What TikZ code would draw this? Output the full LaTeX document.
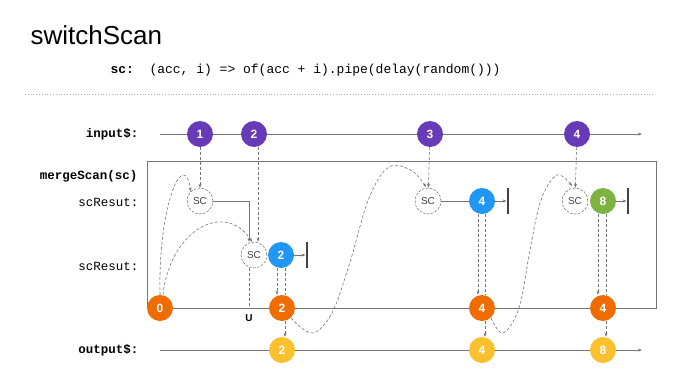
\documentclass[tikz,border=0pt]{standalone}
\usepackage{fontspec}
\setmainfont{Liberation Sans}
\setsansfont{Liberation Sans}
\setmonofont{Liberation Mono}
\usetikzlibrary{arrows.meta, positioning, calc}
\definecolor{inpurple}{HTML}{673AB7}
\definecolor{accorange}{HTML}{EF6C00}
\definecolor{scblue}{HTML}{2196F3}
\definecolor{scgreen}{HTML}{7CB342}
\definecolor{outyellow}{HTML}{FBC02D}
\definecolor{linegray}{HTML}{757575}
\definecolor{bargray}{HTML}{424242}

\begin{document}
\begin{tikzpicture}[x=1pt, y=-1pt,
  marble/.style={circle, fill=#1, minimum size=26pt, inner sep=0pt,
    text=white, font=\sffamily\bfseries\fontsize{12}{14}\selectfont},
  scnode/.style={circle, draw=bargray, dash pattern=on 2.5pt off 1.5pt, fill=white,
    minimum size=26pt, inner sep=0pt, text=bargray,
    font=\sffamily\fontsize{10}{12}\selectfont},
  lanelabel/.style={anchor=east, font=\ttfamily\fontsize{12.5}{14}\selectfont},
  timeline/.style={draw=linegray, line width=0.8pt},
  flow/.style={draw=linegray, dash pattern=on 3pt off 2pt, line width=0.6pt,
    -{Stealth[length=4pt, width=3pt]}},
  plain/.style={draw=linegray, dash pattern=on 3pt off 2pt, line width=0.6pt},
  feed/.style={draw=linegray, line width=0.8pt, -{Stealth[length=4pt, width=3pt]}},
  endbar/.style={draw=bargray, line width=2.5pt},
]
\useasboundingbox (0,0) rectangle (680,383);

% heading
\node[anchor=west, font=\sffamily\fontsize{26}{30}\selectfont] (title) at (27,35) {switchScan};
\node[anchor=west, font=\ttfamily\fontsize{13}{15}\selectfont] (code) at (107,70)
  {{\bfseries sc:}\ \ (acc, i) => of(acc + i).pipe(delay(random()))};
\draw[draw=linegray!60, dotted, line width=0.8pt] (25,94) -- (655,94);

% lane labels
\node[lanelabel, font=\ttfamily\bfseries\fontsize{12.5}{14}\selectfont] (lin) at (142,134) {input\$:};
\node[lanelabel, font=\ttfamily\bfseries\fontsize{12.5}{14}\selectfont] (lmerge) at (141,176) {mergeScan(sc)};
\node[lanelabel] (lres1) at (142,202) {scResut:};
\node[lanelabel] (lres2) at (142,266) {scResut:};
\node[lanelabel, font=\ttfamily\bfseries\fontsize{12.5}{14}\selectfont] (lout) at (142,350) {output\$:};

% timelines and box
\draw[timeline, -{Stealth[length=4pt, width=3pt]}] (160,134) -- (642,134);
\draw[timeline, -{Stealth[length=4pt, width=3pt]}] (160,350) -- (642,350);
\draw[draw=linegray, line width=0.8pt] (147,161) rectangle (656,308);

% scan nodes
\node[scnode] (sc1) at (200,201) {SC};
\node[scnode] (sc2) at (254,255) {SC};
\node[scnode] (sc3) at (428,201) {SC};
\node[scnode] (sc4) at (575,201) {SC};

% inner results
\node[marble=scblue] (r2) at (281,255) {2};
\node[marble=scblue] (r4) at (482,201) {4};
\node[marble=scgreen] (r8) at (603,201) {8};
\coordinate (bar2) at (307,255);
\coordinate (bar4) at (508,201);
\coordinate (bar8) at (628,201);
\draw[endbar] ($(bar2)+(0,-13)$) -- ($(bar2)+(0,13)$);
\draw[endbar] ($(bar4)+(0,-13)$) -- ($(bar4)+(0,13)$);
\draw[endbar] ($(bar8)+(0,-13)$) -- ($(bar8)+(0,13)$);
\draw[feed] (r2) -- ([xshift=-1.5pt]bar2);
\draw[feed] (r4) -- ([xshift=-1.5pt]bar4);
\draw[feed] (r8) -- ([xshift=-1.5pt]bar8);
\draw[draw=linegray, line width=0.8pt] (sc3) -- (r4);
\draw[feed] (sc1.east) -| ([xshift=-5pt]sc2.north);

% input marbles
\node[marble=inpurple] (in1) at (200,134) {1};
\node[marble=inpurple] (in2) at (254,134) {2};
\node[marble=inpurple] (in3) at (430,134) {3};
\node[marble=inpurple] (in4) at (577,134) {4};

% accumulator and output marbles
\node[marble=accorange] (acc0) at (160,308) {0};
\node[marble=accorange] (acc2) at (282,308) {2};
\node[marble=accorange] (acc4) at (482,308) {4};
\node[marble=accorange] (acc8) at (603,308) {4};
\node[marble=outyellow] (out2) at (282,350) {2};
\node[marble=outyellow] (out4) at (482,350) {4};
\node[marble=outyellow] (out8) at (603,350) {8};

% input to scan
\draw[flow] (in1) -- (sc1);
\draw[flow] ([xshift=4pt]in2.south) -- ([xshift=4pt]sc2.north);
\draw[flow] (in3) -- (sc3);
\draw[flow] (in4) -- (sc4);

% accumulator feedback
\draw[flow] (acc0.north) .. controls (158,200) and (185,148) .. (sc1.north west);
\draw[flow] ([xshift=3pt]acc0.north) .. controls (170,230) and (225,200) .. ([xshift=-2pt]sc2.north);
\draw[flow] plot[smooth, tension=0.6] coordinates {(291,318) (312,333) (332,313) (350,262) (369,198) (389,167) (412,171) (426,187)};
\draw[flow] plot[smooth, tension=0.6] coordinates {(491,318) (503,333) (519,308) (530,250) (541,200) (557,175) (572,186)};

% unsubscribe
\draw[plain] ([xshift=-5pt]sc2.south) -- (249,308);
\node[font=\sffamily\bfseries\fontsize{10}{12}\selectfont] (unsub) at (249,318) {U};

% results to accumulator and output
\draw[flow] ([xshift=-4pt]r2.south) -- ([xshift=-5pt]acc2.north);
\draw[plain] ([xshift=4pt]r2.south) -- ([xshift=3pt]acc2.north);
\draw[flow] ([xshift=3pt]acc2.south) -- ([xshift=3pt]out2.north);
\draw[flow] ([xshift=-4pt]r4.south) -- ([xshift=-4pt]acc4.north);
\draw[plain] ([xshift=3pt]r4.south) -- ([xshift=3pt]acc4.north);
\draw[flow] ([xshift=3pt]acc4.south) -- ([xshift=3pt]out4.north);
\draw[flow] ([xshift=-5pt]r8.south) -- ([xshift=-5pt]acc8.north);
\draw[plain] ([xshift=3pt]r8.south) -- ([xshift=3pt]acc8.north);
\draw[flow] ([xshift=3pt]acc8.south) -- ([xshift=3pt]out8.north);
\end{tikzpicture}
\end{document}
